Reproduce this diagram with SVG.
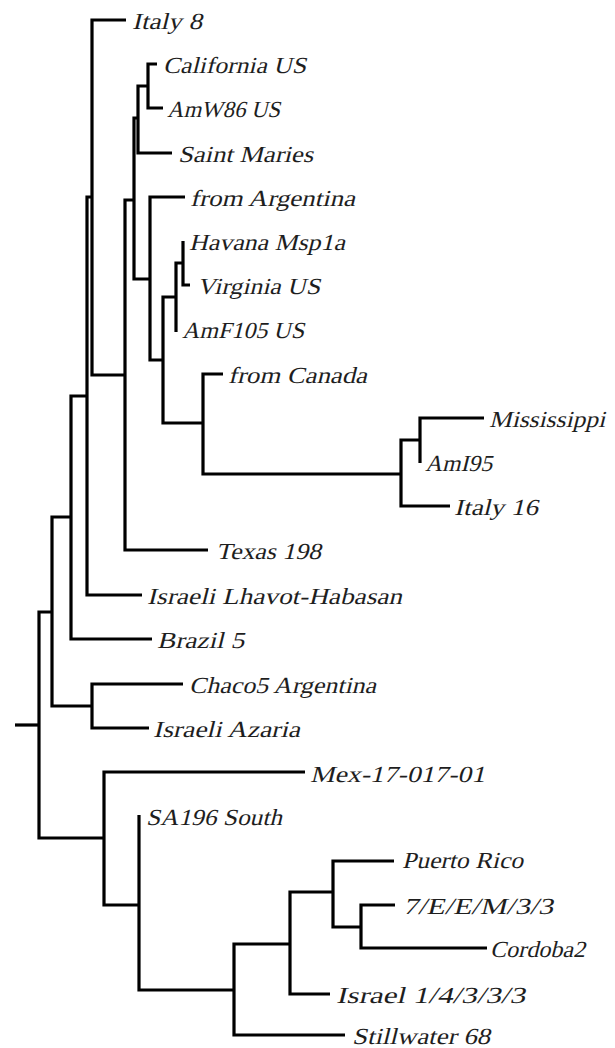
<svg xmlns="http://www.w3.org/2000/svg" width="615" height="1048" viewBox="0 0 615 1048">
<style>
.e{fill:none;stroke:#000;stroke-width:3.2;stroke-linejoin:miter;stroke-linecap:butt}
text{font-family:'Liberation Serif','DejaVu Serif',serif;font-style:normal;font-size:23px;fill:#1e1e1e}
</style>
<rect width="615" height="1048" fill="#fff"/>
<g id="edges">
<path class="e" d="M15 725 H39"/>
<path class="e" d="M39 725 V612 H52"/>
<path class="e" d="M39 725 V838 H104"/>
<path class="e" d="M52 612 V517 H71"/>
<path class="e" d="M52 612 V706 H92"/>
<path class="e" d="M71 517 V396 H87"/>
<path class="e" d="M71 517 V639 H152"/>
<path class="e" d="M87 396 V197 H92"/>
<path class="e" d="M87 396 V595 H142"/>
<path class="e" d="M92 197 V20 H126"/>
<path class="e" d="M92 197 V375 H125"/>
<path class="e" d="M125 375 V200 H134"/>
<path class="e" d="M125 375 V550 H208"/>
<path class="e" d="M134 200 V118 H138"/>
<path class="e" d="M134 200 V279 H150"/>
<path class="e" d="M138 118 V86 H148"/>
<path class="e" d="M138 118 V153 H172"/>
<path class="e" d="M148 86 V64 H157"/>
<path class="e" d="M148 86 V108 H163"/>
<path class="e" d="M150 279 V197 H185"/>
<path class="e" d="M150 279 V360 H163"/>
<path class="e" d="M163 360 V297 H176"/>
<path class="e" d="M163 360 V423 H203"/>
<path class="e" d="M176 297 V263 H183"/>
<path class="e" d="M176 297 V332"/>
<path class="e" d="M183 263 V241"/>
<path class="e" d="M183 263 V285 H190"/>
<path class="e" d="M203 423 V374 H223"/>
<path class="e" d="M203 423 V474 H401"/>
<path class="e" d="M401 474 V440 H420"/>
<path class="e" d="M401 474 V506 H450"/>
<path class="e" d="M420 440 V418 H484"/>
<path class="e" d="M420 440 V463"/>
<path class="e" d="M92 706 V684 H183"/>
<path class="e" d="M92 706 V728 H149"/>
<path class="e" d="M104 838 V772 H305"/>
<path class="e" d="M104 838 V905 H139"/>
<path class="e" d="M139 905 V815"/>
<path class="e" d="M139 905 V990 H234"/>
<path class="e" d="M234 990 V944 H290"/>
<path class="e" d="M234 990 V1035 H345"/>
<path class="e" d="M290 944 V892 H333"/>
<path class="e" d="M290 944 V994 H330"/>
<path class="e" d="M333 892 V861 H394"/>
<path class="e" d="M333 892 V927 H361"/>
<path class="e" d="M361 927 V905 H395"/>
<path class="e" d="M361 927 V948 H487"/>
</g>
<g id="leaf-italy8" transform="translate(132,29) skewX(-14)"><text textLength="70" lengthAdjust="spacingAndGlyphs">Italy 8</text></g>
<g id="leaf-california" transform="translate(163,73) skewX(-14)"><text textLength="143" lengthAdjust="spacingAndGlyphs">California US</text></g>
<g id="leaf-amw86" transform="translate(167,117) skewX(-14)"><text textLength="113" lengthAdjust="spacingAndGlyphs">AmW86 US</text></g>
<g id="leaf-saintmaries" transform="translate(178,162) skewX(-14)"><text textLength="135" lengthAdjust="spacingAndGlyphs">Saint Maries</text></g>
<g id="leaf-fromargentina" transform="translate(190,206) skewX(-14)"><text textLength="165" lengthAdjust="spacingAndGlyphs">from Argentina</text></g>
<g id="leaf-havana" transform="translate(189,250) skewX(-14)"><text textLength="156" lengthAdjust="spacingAndGlyphs">Havana Msp1a</text></g>
<g id="leaf-virginia" transform="translate(197,294) skewX(-14)"><text textLength="123" lengthAdjust="spacingAndGlyphs">Virginia US</text></g>
<g id="leaf-amf105" transform="translate(182,338) skewX(-14)"><text textLength="122" lengthAdjust="spacingAndGlyphs">AmF105 US</text></g>
<g id="leaf-fromcanada" transform="translate(228,383) skewX(-14)"><text textLength="139" lengthAdjust="spacingAndGlyphs">from Canada</text></g>
<g id="leaf-mississippi" transform="translate(489,427) skewX(-14)"><text textLength="116" lengthAdjust="spacingAndGlyphs">Mississippi</text></g>
<g id="leaf-ami95" transform="translate(425,471) skewX(-14)"><text textLength="67" lengthAdjust="spacingAndGlyphs">AmI95</text></g>
<g id="leaf-italy16" transform="translate(454,515) skewX(-14)"><text textLength="84" lengthAdjust="spacingAndGlyphs">Italy 16</text></g>
<g id="leaf-texas198" transform="translate(216,559) skewX(-14)"><text textLength="105" lengthAdjust="spacingAndGlyphs">Texas 198</text></g>
<g id="leaf-lhavot" transform="translate(147,604) skewX(-14)"><text textLength="255" lengthAdjust="spacingAndGlyphs">Israeli Lhavot-Habasan</text></g>
<g id="leaf-brazil5" transform="translate(157,648) skewX(-14)"><text textLength="87" lengthAdjust="spacingAndGlyphs">Brazil 5</text></g>
<g id="leaf-chaco5" transform="translate(189,693) skewX(-14)"><text textLength="187" lengthAdjust="spacingAndGlyphs">Chaco5 Argentina</text></g>
<g id="leaf-azaria" transform="translate(153,737) skewX(-14)"><text textLength="147" lengthAdjust="spacingAndGlyphs">Israeli Azaria</text></g>
<g id="leaf-mex" transform="translate(310,782) skewX(-14)"><text textLength="175" lengthAdjust="spacingAndGlyphs">Mex-17-017-01</text></g>
<g id="leaf-sa196" transform="translate(146,825) skewX(-14)"><text textLength="136" lengthAdjust="spacingAndGlyphs">SA196 South</text></g>
<g id="leaf-puertorico" transform="translate(402,868) skewX(-14)"><text textLength="121" lengthAdjust="spacingAndGlyphs">Puerto Rico</text></g>
<g id="leaf-7eem" transform="translate(403,914) skewX(-14)"><text textLength="150" lengthAdjust="spacingAndGlyphs">7/E/E/M/3/3</text></g>
<g id="leaf-cordoba2" transform="translate(490,957) skewX(-14)"><text textLength="95" lengthAdjust="spacingAndGlyphs">Cordoba2</text></g>
<g id="leaf-israel14333" transform="translate(336,1003) skewX(-14)"><text textLength="189" lengthAdjust="spacingAndGlyphs">Israel 1/4/3/3/3</text></g>
<g id="leaf-stillwater" transform="translate(352,1044) skewX(-14)"><text textLength="138" lengthAdjust="spacingAndGlyphs">Stillwater 68</text></g>
</svg>
